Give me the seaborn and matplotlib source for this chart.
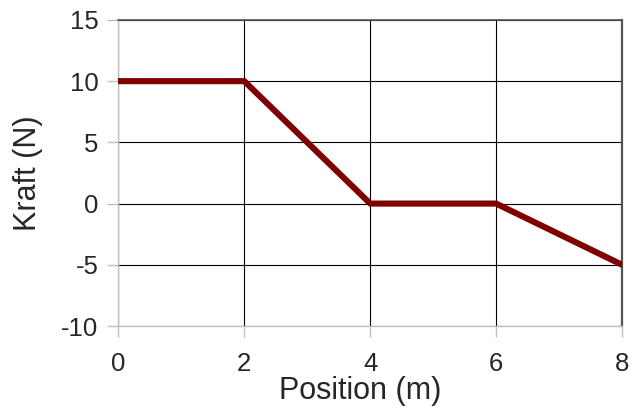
import numpy as np
import pandas as pd
import seaborn as sns
import matplotlib.pyplot as plt

# Kraft vs. Position
position = [0, 2, 4, 6, 8]
kraft = [10, 10, 0, 0, -5]
x_ticks = [0, 2, 4, 6, 8]
y_ticks = [-10, -5, 0, 5, 10, 15]

df = pd.DataFrame({'Position (m)': position, 'Kraft (N)': kraft})

sns.set_style('white')
plt.rcParams['font.family'] = ['Liberation Sans', 'DejaVu Sans']
plt.rcParams['axes.unicode_minus'] = False

fig = plt.figure(figsize=(6.4, 4.07), dpi=100)
ax = fig.add_axes([0.185, 0.199, 0.787, 0.752])

sns.lineplot(data=df, x='Position (m)', y='Kraft (N)', color='#800000',
             linewidth=4.4, ax=ax, zorder=5)

ax.set_xlim(0, 8)
ax.set_ylim(-10, 15)
ax.set_xticks(x_ticks)
ax.set_yticks(y_ticks)
ax.grid(True, color='black', linewidth=0.8)
ax.tick_params(axis='both', labelsize=18.5, length=8, width=1, color='#c0c0c0',
               direction='out', left=True, bottom=True)
ax.tick_params(axis='x', pad=11)
ax.tick_params(axis='y', pad=6.5)
for side in ['left', 'bottom']:
    ax.spines[side].set_color('#c0c0c0')
    ax.spines[side].set_linewidth(1)
for side in ['top', 'right']:
    ax.spines[side].set_color('#555555')
    ax.spines[side].set_linewidth(1.2)
ax.spines['right'].set_linewidth(1.6)

ax.set_xlabel('Position (m)', fontsize=22, labelpad=0)
ax.xaxis.label.set_x(0.48)  # label sits a bit left of centre
ax.set_ylabel('Kraft (N)', fontsize=22, labelpad=13)

plt.savefig('out.png', dpi=100)
